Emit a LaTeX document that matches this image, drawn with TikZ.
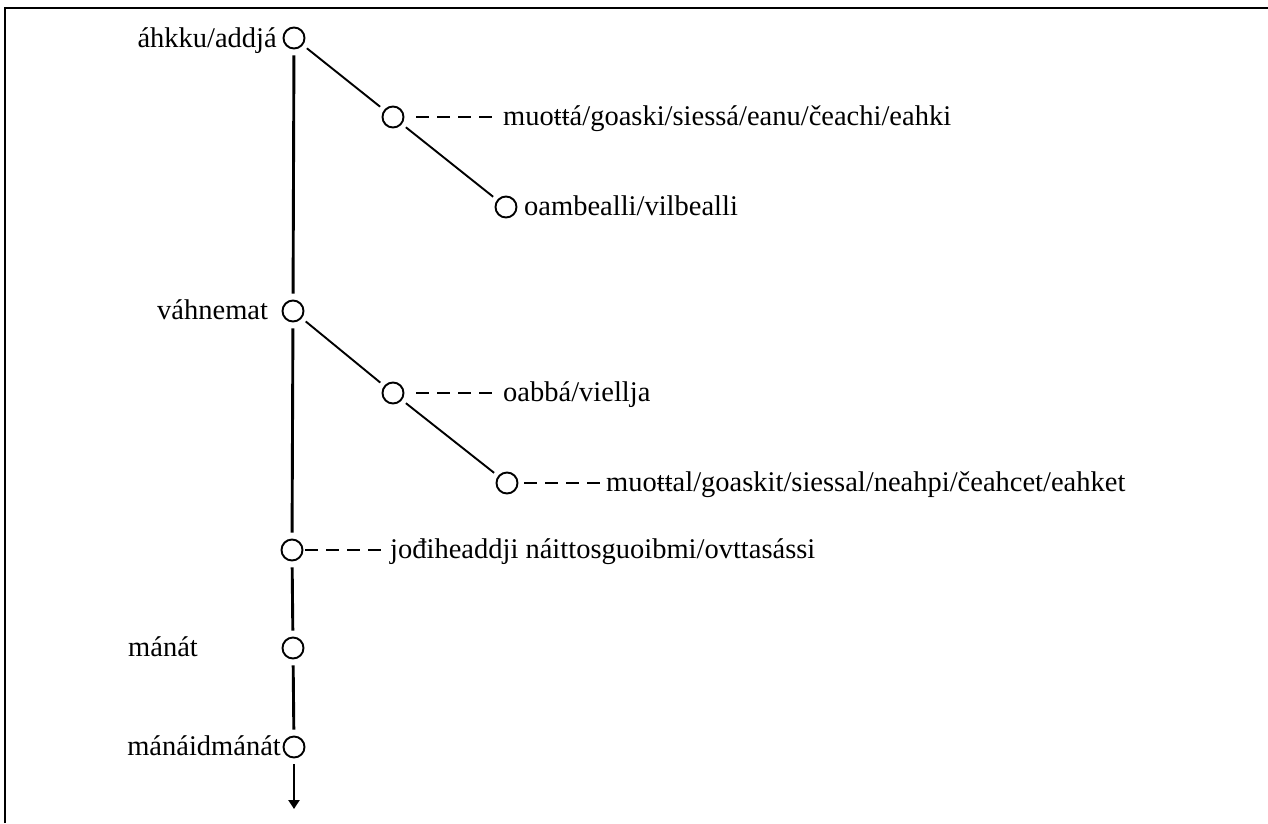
\documentclass[tikz,border=0pt]{standalone}
\usepackage{fontspec}
\setmainfont{Liberation Serif}
\usetikzlibrary{arrows.meta}
\begin{document}
\begin{tikzpicture}[x=1pt,y=-1pt,
  dot/.style={circle, draw, line width=1.9pt, minimum size=21pt, inner sep=0pt},
  lbl/.style={font=\fontsize{28.5}{34}\selectfont, inner sep=0pt},
  spine/.style={line width=2.9pt, shorten <=6pt, shorten >=6pt},
  branch/.style={line width=1.9pt, shorten <=5pt, shorten >=5pt},
  dashlink/.style={line width=2.7pt, dash pattern=on 13pt off 8pt}]
\useasboundingbox (0,0) rectangle (1268,823);
\draw[line width=2.6pt] (5,823) -- (5,8) -- (1268,8);
% circles
\node[dot] (c1) at (294,38) {};
\node[dot] (c2) at (393,117) {};
\node[dot] (c3) at (506,207) {};
\node[dot] (c4) at (293,311) {};
\node[dot] (c5) at (393,393) {};
\node[dot] (c6) at (507,483) {};
\node[dot] (c7) at (292,550) {};
\node[dot] (c8) at (293,648) {};
\node[dot] (c9) at (294,747) {};
\coordinate (end) at (294,809);
% labels
\node[lbl, anchor=base east] (l1) at (277,47) {áhkku/addjá};
\node[lbl, anchor=base west] (l2) at (503,125) {muoŧŧá/goaski/siessá/eanu/čeachi/eahki};
\node[lbl, anchor=base west] (l3) at (524,215) {oambealli/vilbealli};
\node[lbl, anchor=base west] (l4) at (157,319) {váhnemat};
\node[lbl, anchor=base west] (l5) at (503,401) {oabbá/viellja};
\node[lbl, anchor=base west] (l6) at (606,491) {muoŧŧal/goaskit/siessal/neahpi/čeahcet/eahket};
\node[lbl, anchor=base west] (l7) at (390,558) {jođiheaddji náittosguoibmi/ovttasássi};
\node[lbl, anchor=base west] (l8) at (128,656) {mánát};
\node[lbl, anchor=base east] (l9) at (281,755) {mánáidmánát};
% spine
\draw[spine] (c1) -- (c4);
\draw[spine] (c4) -- (c7);
\draw[spine] (c7) -- (c8);
\draw[spine] (c8) -- (c9);
\draw[line width=2.9pt, shorten <=6pt, -{Triangle[length=9pt,width=11pt]}] (c9) -- (end);
% branches
\draw[branch] (c1) -- (c2);
\draw[branch] (c2) -- (c3);
\draw[branch] (c4) -- (c5);
\draw[branch] (c5) -- (c6);
% dashed links
\draw[dashlink, shorten <=12pt, shorten >=8pt] (c2.east) -- (c2.east -| l2.west);
\draw[dashlink, shorten <=12pt, shorten >=8pt] (c5.east) -- (c5.east -| l5.west);
\draw[dashlink, shorten <=6pt, shorten >=6pt] (c6.east) -- (c6.east -| l6.west);
\draw[dashlink, shorten <=2pt, shorten >=4pt] (c7.east) -- (c7.east -| l7.west);
\end{tikzpicture}
\end{document}
